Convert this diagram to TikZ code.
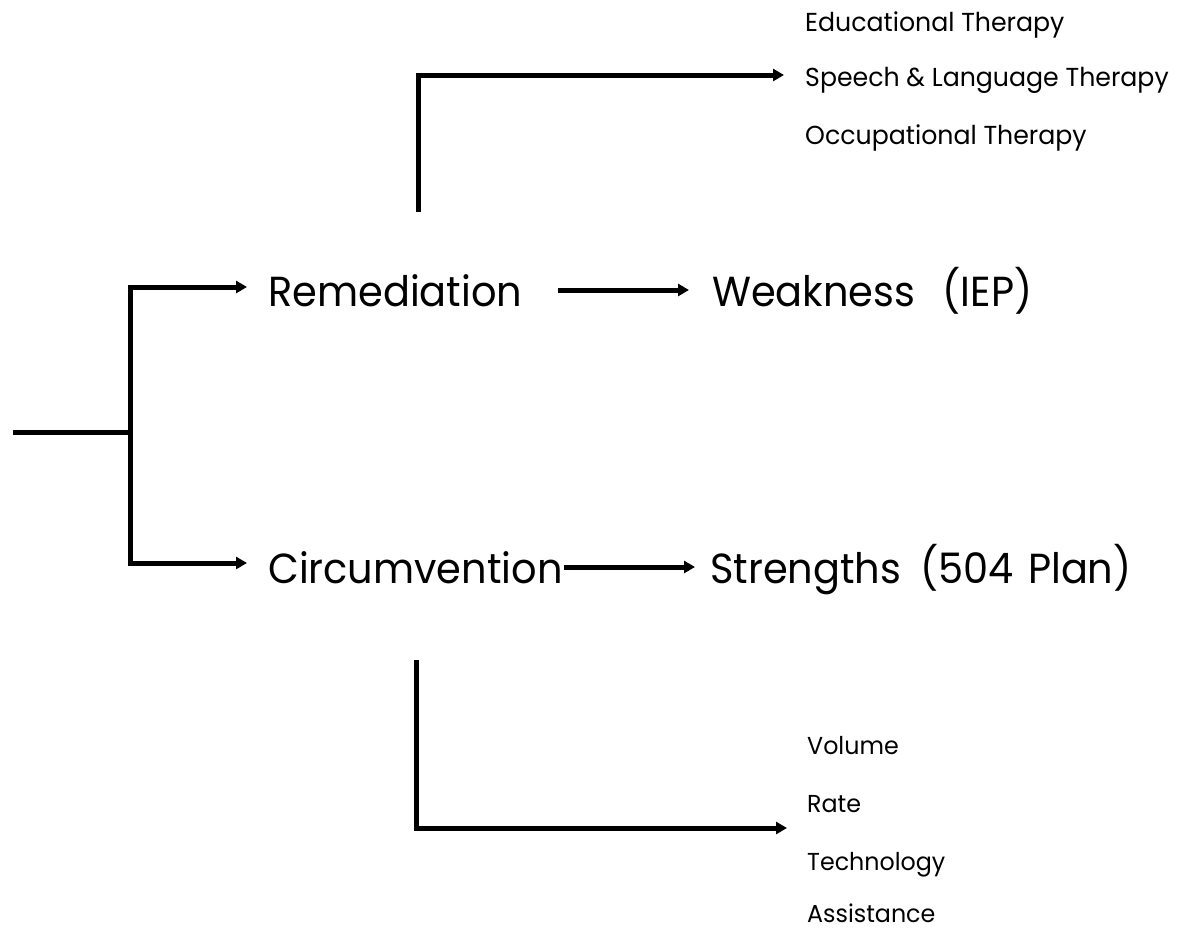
\documentclass[tikz,border=0pt]{standalone}
\usepackage{fontspec}
\setmainfont{Poppins}
\newfontfamily\bigf[FakeStretch=0.95]{Poppins}
\newfontfamily\smallf[FakeStretch=0.97]{Poppins}
\usetikzlibrary{arrows.meta}
\begin{document}
\begin{tikzpicture}[x=1pt,y=-1pt,
  conn/.style={line width=5pt,-{Triangle[length=11pt,width=12pt]}},
  plain/.style={line width=5pt},
  big/.style={anchor=base west,inner sep=0pt,font=\bigf\fontsize{42}{50}\selectfont},
  small/.style={anchor=base west,inner sep=0pt,font=\smallf\fontsize{26}{30}\selectfont},
  smaller/.style={anchor=base west,inner sep=0pt,font=\smallf\fontsize{24.5}{29}\selectfont}]
\useasboundingbox (0,0) rectangle (1178,929);
% text nodes
\node[big] (rem) at (268,306) {Remediation};
\node[big] (weak) at (712,306) {Weakness\hspace{0.65em}(IEP)};
\node[big] (circ) at (268,583) {Circumvention};
\node[big] (str) at (710,583) {Strengths\hspace{0.45em}(504\hspace{0.35em}Plan)};
\node[small] (edu) at (805,31) {Educational Therapy};
\node[small] (spe) at (805,86) {Speech \& Language Therapy};
\node[small] (occ) at (805,144) {Occupational Therapy};
\node[smaller] (vol) at (807,754) {Volume};
\node[smaller] (rat) at (807,812) {Rate};
\node[smaller] (tec) at (807,870) {Technology};
\node[smaller] (ass) at (807,922) {Assistance};
% coordinates
\coordinate (s0) at (13,432);
\coordinate (s1) at (130,432);
\coordinate (ta) at (247,287);
\coordinate (tb) at (247,563);
\coordinate (u0) at (418,212);
\coordinate (u2) at (784,75);
\coordinate (l0) at (416,660);
\coordinate (l2) at (787,828);
\coordinate (m0) at (0,290);
\coordinate (n0) at (0,567);
% connectors
\draw[plain] (s0) -- (s1);
\draw[conn] (s1) |- (ta);
\draw[conn] (s1) |- (tb);
\draw[conn,shorten <=36pt,shorten >=23pt] (rem.east |- m0) -- (weak.west |- m0);
\draw[conn,shorten <=1pt,shorten >=15pt] (circ.east |- n0) -- (str.west |- n0);
\draw[conn] (u0) |- (u2);
\draw[conn] (l0) |- (l2);
\end{tikzpicture}
\end{document}
